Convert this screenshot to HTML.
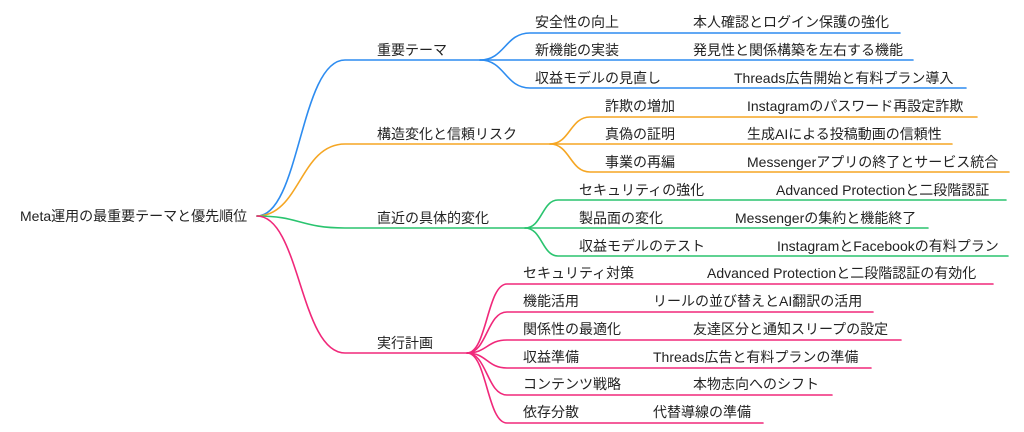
<!DOCTYPE html>
<html><head><meta charset="utf-8"><style>
html,body{margin:0;padding:0;background:#fff}
svg{display:block}
text{font-family:"Liberation Sans","Noto Sans CJK JP",sans-serif;font-size:14px;fill:#222}
path{fill:none;stroke-width:1.6;stroke-linecap:round}
</style></head><body>
<svg width="1024" height="432" viewBox="0 0 1024 432">
<!-- root -->
<text x="20" y="221">Meta運用の最重要テーマと優先順位</text>

<!-- blue -->
<g stroke="#2d8cf0">
<path d="M257 216 C300 216 300 60 345 60 L480 60"/>
<path d="M480 60 C505 60 505 33 530 33 L900 33"/>
<path d="M480 60 L913 60"/>
<path d="M480 60 C505 60 505 88 530 88 L966 88"/>
</g>
<text x="377" y="55">重要テーマ</text>
<text x="535" y="27">安全性の向上</text><text x="693" y="27">本人確認とログイン保護の強化</text>
<text x="535" y="55">新機能の実装</text><text x="693" y="55">発見性と関係構築を左右する機能</text>
<text x="535" y="83">収益モデルの見直し</text><text x="734" y="83">Threads広告開始と有料プラン導入</text>

<!-- orange -->
<g stroke="#f5a623">
<path d="M257 216 C300 216 300 144 345 144 L550 144"/>
<path d="M550 144 C570 144 570 117 590 117 L977 117"/>
<path d="M550 144 L952 144"/>
<path d="M550 144 C570 144 570 172 590 172 L1009 172"/>
</g>
<text x="377" y="139">構造変化と信頼リスク</text>
<text x="605" y="111">詐欺の増加</text><text x="747" y="111">Instagramのパスワード再設定詐欺</text>
<text x="605" y="139">真偽の証明</text><text x="747" y="139">生成AIによる投稿動画の信頼性</text>
<text x="605" y="167">事業の再編</text><text x="747" y="167">Messengerアプリの終了とサービス統合</text>

<!-- green -->
<g stroke="#2ac46f">
<path d="M257 216 C300 216 300 228 345 228 L525 228"/>
<path d="M525 228 C542 228 542 200 558 200 L1006 200"/>
<path d="M525 228 L928 228"/>
<path d="M525 228 C542 228 542 256 558 256 L1008 256"/>
</g>
<text x="377" y="223">直近の具体的変化</text>
<text x="579" y="195">セキュリティの強化</text><text x="776" y="195">Advanced Protectionと二段階認証</text>
<text x="579" y="223">製品面の変化</text><text x="735" y="223">Messengerの集約と機能終了</text>
<text x="579" y="251">収益モデルのテスト</text><text x="777" y="251">InstagramとFacebookの有料プラン</text>

<!-- pink -->
<g stroke="#f0287a">
<path d="M257 216 C300 216 300 353 345 353 L467 353"/>
<path d="M467 353 C487 353 487 284 507 284 L993 284"/>
<path d="M467 353 C487 353 487 312 507 312 L873 312"/>
<path d="M467 353 C487 353 487 340 507 340 L901 340"/>
<path d="M467 353 C487 353 487 368 507 368 L871 368"/>
<path d="M467 353 C487 353 487 395 507 395 L832 395"/>
<path d="M467 353 C487 353 487 423 507 423 L763 423"/>
</g>
<text x="377" y="348">実行計画</text>
<text x="523" y="278">セキュリティ対策</text><text x="707" y="278">Advanced Protectionと二段階認証の有効化</text>
<text x="523" y="306">機能活用</text><text x="653" y="306">リールの並び替えとAI翻訳の活用</text>
<text x="523" y="334">関係性の最適化</text><text x="693" y="334">友達区分と通知スリープの設定</text>
<text x="523" y="362">収益準備</text><text x="653" y="362">Threads広告と有料プランの準備</text>
<text x="523" y="389">コンテンツ戦略</text><text x="693" y="389">本物志向へのシフト</text>
<text x="523" y="417">依存分散</text><text x="653" y="417">代替導線の準備</text>
</svg>
</body></html>
